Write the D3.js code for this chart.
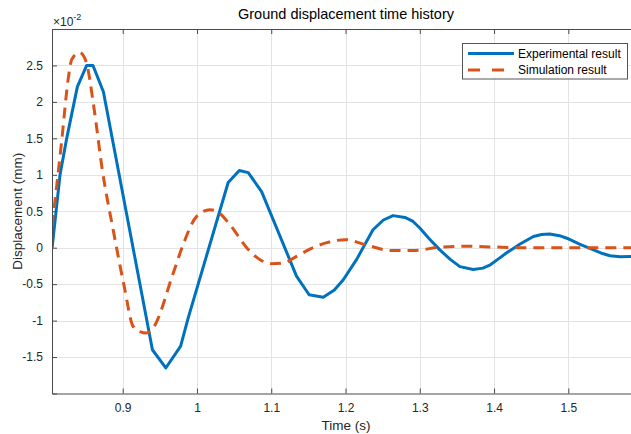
<!DOCTYPE html>
<html>
<head>
<meta charset="utf-8">
<script src="https://cdn.jsdelivr.net/npm/d3@7"></script>
<style>
  html, body { margin: 0; padding: 0; background: #fff; overflow: hidden; }
  svg { display: block; font-family: "Liberation Sans", Arial, Helvetica, sans-serif; }
</style>
</head>
<body>
<svg id="chart" width="631" height="434"></svg>
<script>
// Experimental ground displacement (×10^-2 mm) against time (s)
const timeExp = [0.805, 0.8156, 0.8246, 0.839, 0.8515, 0.860, 0.874, 0.940, 0.958, 0.978, 0.988,
  1.042, 1.057, 1.069, 1.087, 1.134, 1.151, 1.170, 1.185, 1.197, 1.215, 1.237, 1.251, 1.264,
  1.280, 1.291, 1.300, 1.313, 1.327, 1.341, 1.354, 1.372, 1.385, 1.395, 1.405, 1.417, 1.435,
  1.453, 1.464, 1.475, 1.488, 1.498, 1.515, 1.534, 1.546, 1.556, 1.570, 1.583, 1.597];
const dispExp = [0, 1.0, 1.5, 2.21, 2.50, 2.50, 2.14, -1.40, -1.65, -1.35, -0.97,
  0.895, 1.06, 1.03, 0.77, -0.39, -0.645, -0.68, -0.58, -0.44, -0.16, 0.246, 0.38, 0.44,
  0.415, 0.36, 0.27, 0.12, -0.03, -0.16, -0.26, -0.30, -0.28, -0.234, -0.16, -0.07, 0.05,
  0.154, 0.18, 0.187, 0.165, 0.13, 0.05, -0.03, -0.08, -0.11, -0.125, -0.12, -0.12];

// Simulated ground displacement (×10^-2 mm)
const timeSim = [0.805, 0.818, 0.8268, 0.8313, 0.8416, 0.8506, 0.861, 0.8725, 0.888, 0.902,
  0.914, 0.923, 0.932, 0.941, 0.968, 0.982, 0.9996, 1.0175, 1.0266, 1.0445, 1.067, 1.085,
  1.1006, 1.116, 1.134, 1.152, 1.175, 1.200, 1.227, 1.263, 1.290, 1.326, 1.362, 1.398,
  1.434, 1.47, 1.52, 1.597];
const dispSim = [0.3, 1.48, 2.33, 2.58, 2.68, 2.555, 1.94, 1.07, 0.2, -0.53,
  -1.08, -1.15, -1.17, -1.10, -0.35, 0.06, 0.43, 0.52, 0.50, 0.315, 0, -0.165,
  -0.22, -0.21, -0.12, -0.02, 0.07, 0.11, 0.04, -0.04, -0.04, 0.005, 0.02, 0.01,
  0, 0, 0, 0];

const xTicks = [0.9, 1.0, 1.1, 1.2, 1.3, 1.4, 1.5];
const xTickLabels = ["0.9", "1", "1.1", "1.2", "1.3", "1.4", "1.5"];
const yTicks = [-1.5, -1, -0.5, 0, 0.5, 1, 1.5, 2, 2.5];
const yTickLabels = ["-1.5", "-1", "-0.5", "0", "0.5", "1", "1.5", "2", "2.5"];

const seriesNames = ["Experimental result", "Simulation result"];
const colors = ["#0072BD", "#D95319"];

const svg = d3.select("#chart");
const plotLeft = 52, plotRight = 640, plotTop = 29, plotBottom = 393.5;
const axisColor = "#4a4a4a", textColor = "#262626";

const x = d3.scaleLinear().domain([0.8048, 1.5965]).range([plotLeft, plotRight]);
const y = d3.scaleLinear().domain([-2, 3]).range([plotBottom, plotTop]);

// grid
const grid = svg.append("g").attr("stroke", "#e3e3e3").attr("stroke-width", 1);
grid.selectAll("line.gx").data(xTicks).join("line").attr("class", "gx")
  .attr("x1", d => Math.round(x(d)) + 0.5).attr("x2", d => Math.round(x(d)) + 0.5)
  .attr("y1", plotTop).attr("y2", plotBottom);
grid.selectAll("line.gy").data(yTicks).join("line").attr("class", "gy")
  .attr("y1", d => Math.round(y(d)) + 0.5).attr("y2", d => Math.round(y(d)) + 0.5)
  .attr("x1", plotLeft).attr("x2", plotRight);

// clip
svg.append("defs").append("clipPath").attr("id", "plotclip")
  .append("rect").attr("x", plotLeft).attr("y", plotTop)
  .attr("width", plotRight - plotLeft).attr("height", plotBottom - plotTop);

const expLine = d3.line().x(d => x(d[0])).y(d => y(d[1]));
const simLine = d3.line().x(d => x(d[0])).y(d => y(d[1])).curve(d3.curveMonotoneX);
const expData = timeExp.map((t, i) => [t, dispExp[i]]);
const simData = timeSim.map((t, i) => [t, dispSim[i]]);

const plot = svg.append("g").attr("clip-path", "url(#plotclip)");
plot.append("path").datum(expData).attr("d", expLine)
  .attr("fill", "none").attr("stroke", colors[0]).attr("stroke-width", 3)
  .attr("stroke-linejoin", "round");
plot.append("path").datum(simData).attr("d", simLine)
  .attr("fill", "none").attr("stroke", colors[1]).attr("stroke-width", 3)
  .attr("stroke-dasharray", "11,7");

// axes
const xAxis = d3.axisBottom(x).tickValues(xTicks).tickSize(-5).tickPadding(10)
  .tickFormat((d, i) => xTickLabels[i]);
const gx = svg.append("g").attr("transform", `translate(0,${plotBottom})`).call(xAxis);
const yAxis = d3.axisLeft(y).tickValues(yTicks).tickSize(-5).tickPadding(9)
  .tickFormat((d, i) => yTickLabels[i]);
const gy = svg.append("g").attr("transform", `translate(${plotLeft},0)`).call(yAxis);
// ticks along the top edge
const xTop = d3.axisTop(x).tickValues(xTicks).tickSize(-5).tickFormat("");
const gt = svg.append("g").attr("transform", `translate(0,${plotTop})`).call(xTop);

[gx, gy, gt].forEach(g => {
  g.select(".domain").attr("stroke", axisColor).attr("stroke-width", 1);
  g.selectAll(".tick line").attr("stroke", axisColor);
  g.selectAll(".tick text").attr("fill", textColor).attr("font-size", 12)
    .attr("font-family", "Liberation Sans, Arial, sans-serif");
});

// exponent label
const expo = svg.append("text").attr("x", 53).attr("y", 26).attr("fill", textColor)
  .attr("font-size", 12);
expo.append("tspan").text("×10");
expo.append("tspan").attr("dy", -6).attr("font-size", 9).text("-2");

// title and axis labels
svg.append("text").attr("x", 346).attr("y", 19).attr("text-anchor", "middle")
  .attr("fill", "#000").attr("font-size", 14.5).text("Ground displacement time history");
svg.append("text").attr("x", 346).attr("y", 430).attr("text-anchor", "middle")
  .attr("fill", textColor).attr("font-size", 13.5).text("Time (s)");
svg.append("text").attr("transform", `translate(22,${(plotTop + plotBottom) / 2}) rotate(-90)`)
  .attr("text-anchor", "middle").attr("fill", textColor).attr("font-size", 13.5)
  .text("Displacement (mm)");

// legend
const lg = svg.append("g");
lg.append("rect").attr("x", 462.5).attr("y", 43.5).attr("width", 165).attr("height", 35.5)
  .attr("fill", "#fff").attr("stroke", "#555").attr("stroke-width", 1);
const rows = [53.5, 70];
seriesNames.forEach((name, i) => {
  lg.append("line").attr("x1", 468).attr("x2", 514).attr("y1", rows[i]).attr("y2", rows[i])
    .attr("stroke", colors[i]).attr("stroke-width", 3)
    .attr("stroke-dasharray", i === 1 ? "12,12" : null);
  lg.append("text").attr("x", 518).attr("y", rows[i]).attr("dy", "0.35em")
    .attr("fill", "#000").attr("font-size", 12).text(name);
});
</script>
</body>
</html>
